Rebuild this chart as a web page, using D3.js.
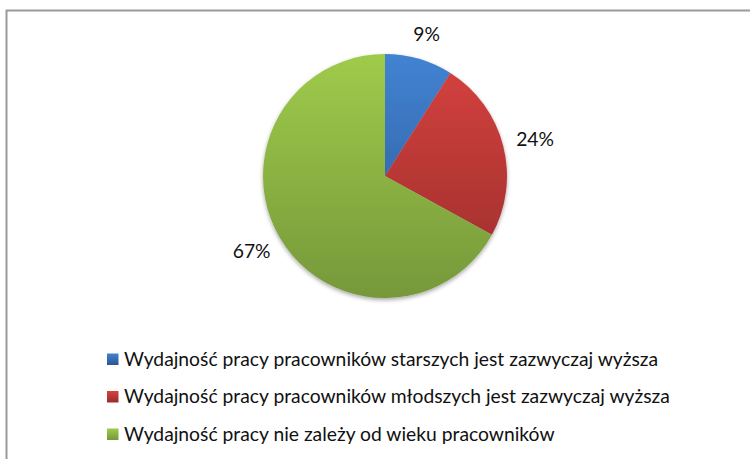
<!DOCTYPE html>
<html>
<head>
<meta charset="utf-8">
<script src="https://cdn.jsdelivr.net/npm/d3@7"></script>
<style>
  html, body { margin: 0; padding: 0; background: #fff; }
  svg { display: block; }
</style>
</head>
<body>
<svg id="chart" width="750" height="459"></svg>
<script>
// Survey answers and their shares (percent)
const categories = [
  "Wydajność pracy pracowników starszych jest zazwyczaj wyższa",
  "Wydajność pracy pracowników młodszych jest zazwyczaj wyższa",
  "Wydajność pracy nie zależy od wieku pracowników"
];
const values = [9, 24, 67];
const labels = ["9%", "24%", "67%"];
// Top and bottom tones of each slice's vertical gradient
const colorTop = ["#4283d2", "#d6423f", "#9fcb4b"];
const colorBottom = ["#2b5593", "#992d2b", "#76983a"];

const svg = d3.select("#chart");
const W = 750, H = 459;
const cx = 385, cy = 176, R = 122;
const fontFam = "Lato, 'Open Sans', sans-serif";
const fontSize = 19.3;

// outer frame (runs past the right and bottom edges)
svg.append("rect")
  .attr("x", 6.5).attr("y", 10.5)
  .attr("width", W + 20).attr("height", H + 20)
  .attr("fill", "#fff")
  .attr("stroke", "#9a9a9a").attr("stroke-width", 2);

const defs = svg.append("defs");

// slice gradients span the whole pie vertically (pie-local coordinates)
categories.forEach((c, i) => {
  const g = defs.append("linearGradient")
    .attr("id", "slice" + i)
    .attr("gradientUnits", "userSpaceOnUse")
    .attr("x1", 0).attr("x2", 0)
    .attr("y1", -R).attr("y2", R);
  g.append("stop").attr("offset", "0%").attr("stop-color", colorTop[i]);
  g.append("stop").attr("offset", "100%").attr("stop-color", colorBottom[i]);

  const s = defs.append("linearGradient")
    .attr("id", "swatch" + i)
    .attr("x1", 0).attr("x2", 0).attr("y1", 0).attr("y2", 1);
  s.append("stop").attr("offset", "0%").attr("stop-color", colorTop[i]);
  s.append("stop").attr("offset", "100%").attr("stop-color", colorBottom[i]);
});

// soft shadow under the pie
const shadow = defs.append("filter").attr("id", "pieShadow")
  .attr("x", "-10%").attr("y", "-10%").attr("width", "120%").attr("height", "120%");
shadow.append("feGaussianBlur").attr("in", "SourceAlpha").attr("stdDeviation", 2).attr("result", "b");
shadow.append("feOffset").attr("in", "b").attr("dy", 2).attr("result", "o");
shadow.append("feComponentTransfer").attr("in", "o").attr("result", "s")
  .append("feFuncA").attr("type", "linear").attr("slope", 0.35);
const merge = shadow.append("feMerge");
merge.append("feMergeNode").attr("in", "s");
merge.append("feMergeNode").attr("in", "SourceGraphic");

const pie = d3.pie().sort(null).value(d => d)(values);
const arc = d3.arc().innerRadius(0).outerRadius(R);

const gPie = svg.append("g")
  .attr("transform", `translate(${cx},${cy})`)
  .attr("filter", "url(#pieShadow)");

gPie.selectAll("path")
  .data(pie)
  .join("path")
  .attr("d", arc)
  .attr("fill", (d, i) => `url(#slice${i})`);

// percentage labels outside the slices: the label box sits a fixed gap
// beyond the rim, pushed outward by half its own size
const gap = 14;
const gLabels = svg.append("g").attr("transform", `translate(${cx},${cy})`);
gLabels.selectAll("text")
  .data(pie)
  .join("text")
  .attr("text-anchor", "middle")
  .attr("dy", "0.35em")
  .attr("font-family", fontFam)
  .attr("font-size", fontSize)
  .attr("fill", "#111")
  .text((d, i) => labels[i])
  .each(function (d) {
    const bb = this.getBBox();
    const a = (d.startAngle + d.endAngle) / 2;
    const sx = Math.sin(a), sy = -Math.cos(a);
    const x = sx * (R + gap) + sx * bb.width / 2;
    const y = sy * (R + gap) + sy * bb.height / 2;
    d3.select(this).attr("transform", `translate(${x},${y})`);
  });

// legend
const rowY = d3.scalePoint().domain(d3.range(categories.length)).range([365.5, 440.5]);
const legend = svg.append("g");
const rows = legend.selectAll("g")
  .data(categories)
  .join("g")
  .attr("transform", (d, i) => `translate(107,${rowY(i)})`);

rows.append("rect")
  .attr("x", 0).attr("y", -12)
  .attr("width", 11.5).attr("height", 11.5)
  .attr("fill", (d, i) => `url(#swatch${i})`);

rows.append("text")
  .attr("x", 17).attr("y", 0)
  .attr("font-family", fontFam)
  .attr("font-size", fontSize)
  .attr("fill", "#111")
  .text(d => d);
</script>
</body>
</html>
